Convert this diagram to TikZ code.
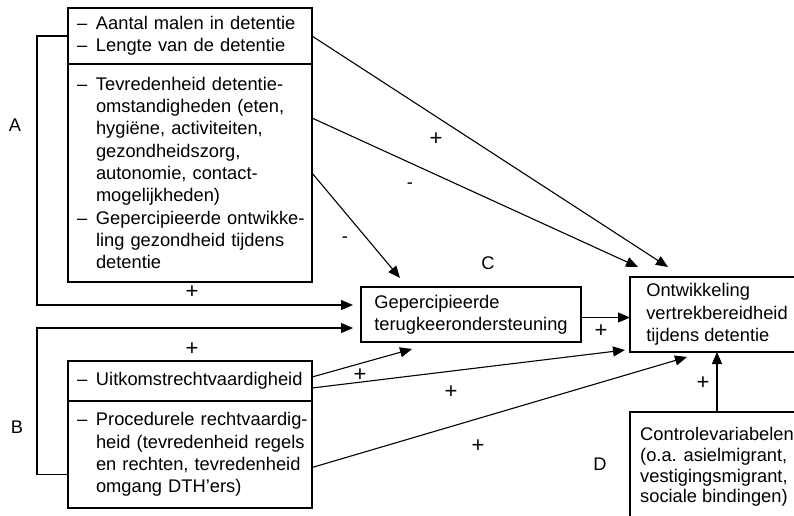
\documentclass[tikz,border=0pt]{standalone}
\usepackage{fontspec}
\setmainfont{Liberation Sans}
\usetikzlibrary{arrows.meta}
\usetikzlibrary{positioning}

\newcommand{\streepje}[1]{\mbox{\makebox[19pt][l]{--}#1}}
\newcommand{\verder}[1]{\mbox{\hspace{19pt}#1}}

\begin{document}
\begin{tikzpicture}[x=1pt,y=-1pt,>={Triangle[length=12pt,width=10pt]},line width=1.1pt,
  every node/.style={font=\fontsize{18.3}{22.3}\selectfont},
  var node/.style={draw,rectangle,align=left,text width=226pt,inner xsep=9pt,inner ysep=0pt,outer sep=0pt},
  main node/.style={draw,rectangle,align=left,inner sep=0pt,outer sep=0pt},
  teken/.style={font=\fontsize{22}{24}\selectfont}]

  \useasboundingbox (0,0) rectangle (794,515);
  \clip (0,0) rectangle (794,515);

  % blok A
  \node[var node,minimum height=56pt,anchor=north west] (A1) at (68,8)
    {\streepje{Aantal malen in detentie}\\
     \streepje{Lengte van de detentie}};
  \node[var node,minimum height=218pt] (A2) [below=0pt of A1]
    {\streepje{Tevredenheid detentie-}\\
     \verder{omstandigheden (eten,}\\
     \verder{hygiëne, activiteiten,}\\
     \verder{gezondheidszorg,}\\
     \verder{autonomie, contact-}\\
     \verder{mogelijkheden)}\\
     \streepje{Gepercipieerde ontwikke-}\\
     \verder{ling gezondheid tijdens}\\
     \verder{detentie}};

  % blok B
  \node[var node,minimum height=40pt,anchor=north west] (B1) at (68,361)
    {\streepje{Uitkomstrechtvaardigheid}};
  \node[var node,minimum height=107pt] (B2) [below=0pt of B1]
    {\streepje{Procedurele rechtvaardig-}\\
     \verder{heid (tevredenheid regels}\\
     \verder{en rechten, tevredenheid}\\
     \verder{omgang DTH'ers)}};

  \node[main node,minimum width=220pt,minimum height=55pt,anchor=north west] (C) at (361,287)
    {Gepercipieerde\\terugkeerondersteuning};
  \node[main node,minimum width=174pt,minimum height=75pt,anchor=north west] (O) at (630,277)
    {Ontwikkeling\\vertrekbereidheid\\tijdens detentie};
  \node[main node,minimum width=174pt,minimum height=110pt,anchor=north west,
    font=\fontsize{18.3}{20.8}\selectfont] (D) at (630,412)
    {Controlevariabelen\\(o.a. asielmigrant,\\vestigingsmigrant,\\sociale bindingen)};

  \node (lA) at (15,125) {A};
  \node (lB) at (17,427) {B};
  \node (lC) at (488,263) {C};
  \node (lD) at (600,464) {D};

  \draw[->] (A1.east) -- ([xshift=38pt,yshift=10pt]O.north west);
  \draw[->] ([yshift=-54pt]A2.north east) -- ([xshift=8pt,yshift=10pt]O.north west);
  \draw[->] (A2.east) -- ([xshift=39pt,yshift=9pt]C.north west);
  \draw[->] (A1.west) -- ++(-31,0) |- ([xshift=-8pt,yshift=-18pt]C.north west);
  \draw[->] ([yshift=-20pt]B2.west) -- ++(-31,0) |- ([xshift=-8pt,yshift=14pt]C.south west);
  \draw[->] ([yshift=-3pt]C.east) -- ([yshift=-3pt]O.west);
  \draw[->] ([yshift=4pt]B1.east) -- ([xshift=51pt,yshift=-7pt]C.south west);
  \draw[->] ([yshift=-7pt]B1.east) -- ([xshift=-5pt,yshift=2pt]O.south west);
  \draw[->] ([yshift=-13pt]B2.east) -- ([xshift=57pt,yshift=-5pt]O.south west);
  \draw[->] (D.north) -- (O.south);

  \node[teken] (s1) at (436,139) {+};
  \node (s2) at (410,186) {-};
  \node (s3) at (345,240) {-};
  \node[teken] (s4) at (192,292) {+};
  \node[teken] (s5) at (192,349) {+};
  \node[teken] (s6) at (601,331) {+};
  \node[teken] (s7) at (360,375) {+};
  \node[teken] (s8) at (451,392) {+};
  \node[teken] (s9) at (478,446) {+};
  \node[teken] (s10) at (703,383) {+};
\end{tikzpicture}
\end{document}
